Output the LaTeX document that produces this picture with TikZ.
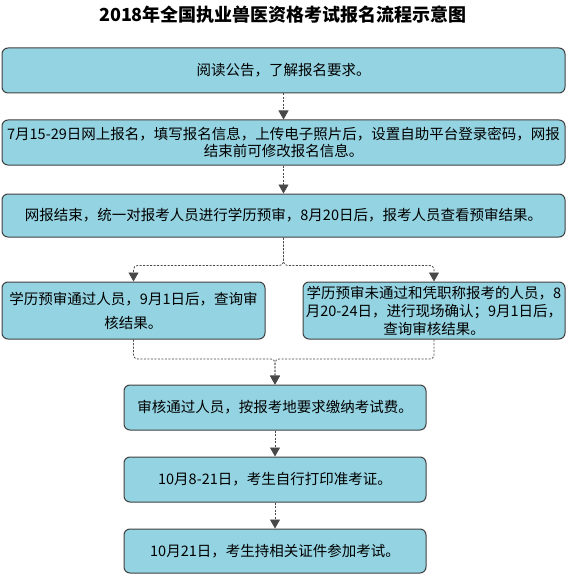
\documentclass[tikz,border=0pt]{standalone}
\usepackage{fontspec}
\setmainfont{Noto Sans CJK SC}
\usetikzlibrary{arrows.meta, positioning, calc}
\definecolor{boxcyan}{RGB}{148, 211, 225}
\definecolor{edgegray}{RGB}{64, 64, 64}
\definecolor{linkgray}{RGB}{72, 72, 72}

\begin{document}
\begin{tikzpicture}[x=1pt, y=-1pt,
  stage/.style={draw=edgegray, fill=boxcyan, line width=1pt, rounded corners=6pt, align=center, inner sep=2pt, font=\fontsize{14.5}{#1}\selectfont},
  stage/.default=18pt,
  link/.style={draw=linkgray, line width=0.8pt, dash pattern=on 2pt off 1.5pt, -{Triangle[width=10pt, length=9pt]}},
]
  \useasboundingbox (0,0) rectangle (569,575);
  \node[font=\fontsize{18}{20}\selectfont\bfseries] (title) at (283,15) {2018年全国执业兽医资格考试报名流程示意图};

  \node[stage, minimum width=563pt, minimum height=45pt] (notice) at (283.5,70.5) {阅读公告，了解报名要求。};
  \node[stage=17pt, minimum width=563pt, minimum height=45pt] (apply) at (283.5,142.5) {7月15-29日网上报名，填写报名信息，上传电子照片后，设置自助平台登录密码，网报\\结束前可修改报名信息。};
  \node[stage, minimum width=563pt, minimum height=43pt] (precheck) at (283.5,215.5) {网报结束，统一对报考人员进行学历预审，8月20日后，报考人员查看预审结果。};
  \node[stage=24pt, minimum width=263pt, minimum height=57pt] (pass) at (133.5,310.5) {学历预审通过人员，9月1日后，查询审\\核结果。};
  \node[stage, minimum width=262pt, minimum height=57pt] (onsite) at (434,310.5) {学历预审未通过和凭职称报考的人员，8\\月20-24日，进行现场确认；9月1日后，\\查询审核结果。};
  \node[stage, minimum width=302pt, minimum height=45pt] (pay) at (275,407.5) {审核通过人员，按报考地要求缴纳考试费。};
  \node[stage, minimum width=302pt, minimum height=45pt] (ticket) at (275,479.5) {10月8-21日，考生自行打印准考证。};
  \node[stage, minimum width=302pt, minimum height=44pt] (exam) at (275,551) {10月21日，考生持相关证件参加考试。};

  \coordinate (split) at (283.5,265.5);
  \coordinate (join) at (275,359);

  \draw[link] (notice) -- (apply);
  \draw[link] (apply) -- (precheck);
  \draw[link, rounded corners=4pt] (precheck.south) |- (pass.north |- split) -- (pass.north);
  \draw[link, rounded corners=4pt] (precheck.south) |- (onsite.north |- split) -- (onsite.north);
  \draw[link, rounded corners=4pt] (pass.south) |- (join) -- (pay.north);
  \draw[link, rounded corners=4pt] (onsite.south) |- (join) -- (pay.north);
  \draw[link] (pay) -- (ticket);
  \draw[link] (ticket) -- (exam);
\end{tikzpicture}
\end{document}
